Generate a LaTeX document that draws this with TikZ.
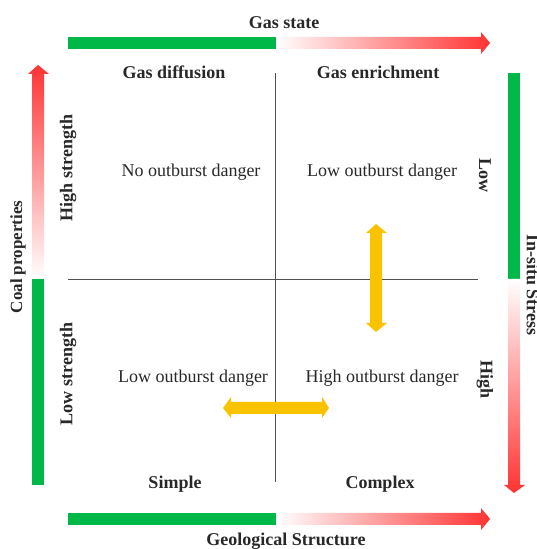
\documentclass[tikz,border=0pt]{standalone}
\usepackage{fontspec}
\setmainfont{Liberation Serif}
\definecolor{barGreen}{RGB}{0,184,72}
\definecolor{barRed}{RGB}{255,51,51}
\definecolor{arrYellow}{RGB}{249,195,0}
\definecolor{txtGray}{RGB}{40,40,40}
\definecolor{lineGray}{RGB}{80,80,80}
\begin{document}
\begin{tikzpicture}[x=1pt,y=1pt,
  every node/.style={text=txtGray,inner sep=0pt,font=\fontsize{18}{20}\selectfont},
  titletext/.style={font=\fontsize{18}{20}\selectfont\bfseries},
  plaintext/.style={font=\fontsize{18}{20}\selectfont},
  axisline/.style={draw=lineGray,line width=0.9pt},
  greenbar/.style={fill=barGreen},
  yellowarrow/.style={fill=arrYellow}]
\useasboundingbox (0,0) rectangle (537,549);
% top bar
\fill[greenbar] (68,500) rectangle (276,512);
\shade[left color=white,right color=barRed] (276,500) -- (481,500) -- (481,495) -- (490,506) -- (481,517) -- (481,512) -- (276,512) -- cycle;
% bottom bar
\fill[greenbar] (68,24) rectangle (276,36);
\shade[left color=white,right color=barRed] (276,24) -- (481,24) -- (481,19) -- (490,30) -- (481,41) -- (481,36) -- (276,36) -- cycle;
% left bar
\fill[greenbar] (32,64) rectangle (44,270);
\shade[bottom color=white,top color=barRed] (32,270) -- (32,475) -- (28,475) -- (38,484) -- (49,475) -- (44,475) -- (44,270) -- cycle;
% right bar
\fill[greenbar] (508,270) rectangle (520,476);
\shade[top color=white,bottom color=barRed] (508,270) -- (508,64) -- (504,64) -- (514,56) -- (525,64) -- (520,64) -- (520,270) -- cycle;
% axes
\coordinate (vt) at (275,476);
\coordinate (vb) at (275,67);
\coordinate (hl) at (68,270);
\coordinate (hr) at (478,270);
\draw[axisline] (vt) -- (vb);
\draw[axisline] (hl) -- (hr);
% yellow arrows
\fill[yellowarrow] (370,226) -- (370,316) -- (366,316) -- (376,325) -- (387,316) -- (382,316) -- (382,226) -- (387,226) -- (376,217) -- (366,226) -- (370,226) -- cycle;
\fill[yellowarrow] (231,135) -- (322,135) -- (322,131) -- (329,141) -- (322,152) -- (322,147) -- (231,147) -- (231,152) -- (223,141) -- (231,131) -- cycle;
% titles
\node[titletext] (gs) at (284,526) {Gas state};
\node[titletext] (gd) at (174,477) {Gas diffusion};
\node[titletext] (ge) at (378,477) {Gas enrichment};
\node[titletext] (si) at (175,65) {Simple};
\node[titletext] (co) at (380,65) {Complex};
\node[titletext] (gst) at (286,8) {Geological Structure};
\node[titletext,rotate=90,font=\fontsize{17}{20}\selectfont\bfseries] (cp) at (18,292) {Coal properties};
\node[titletext,rotate=90] (hs) at (68,381) {High strength};
\node[titletext,rotate=90] (ls) at (68,175) {Low strength};
\node[titletext,rotate=-90] (lo) at (485,373) {Low};
\node[titletext,rotate=-90] (hi) at (485,169) {High};
\node[titletext,rotate=-90] (is) at (533,264) {In-situ Stress};
% quadrant texts
\node[plaintext] (q1) at (191,377) {No outburst danger};
\node[plaintext] (q2) at (382,377) {Low outburst danger};
\node[plaintext] (q3) at (193,171) {Low outburst danger};
\node[plaintext] (q4) at (382,171) {High outburst danger};
\end{tikzpicture}
\end{document}
